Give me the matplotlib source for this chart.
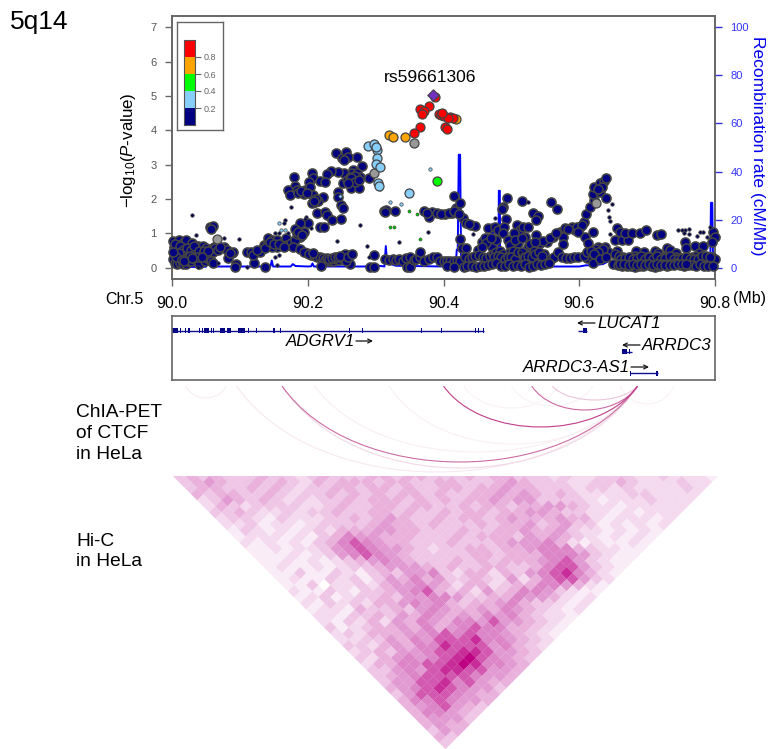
import matplotlib
matplotlib.use("Agg")
import matplotlib.pyplot as plt
from matplotlib.collections import PolyCollection
from matplotlib.colors import LinearSegmentedColormap
from matplotlib.patches import FancyArrowPatch, PathPatch, Rectangle
from matplotlib.path import Path

plt.rcParams['font.family'] = ['Liberation Sans', 'DejaVu Sans']
plt.rcParams['mathtext.fontset'] = 'custom'
plt.rcParams['mathtext.rm'] = 'Liberation Sans'
plt.rcParams['mathtext.it'] = 'Liberation Sans:italic'

W, H = 771, 749

# (Mb, -log10 P)
navy = [
    (90.002, .78), (90.006, .72), (90.010, .80), (90.014, .70), (90.018, .76), (90.022, .66), (90.026, .62),
    (90.020, .80), (90.030, .72), (90.034, .58), (90.038, .64), (90.042, .55), (90.046, .62), (90.050, .58),
    (90.054, .50), (90.058, .55), (90.062, .60), (90.066, .56), (90.003, .60), (90.008, .50), (90.013, .55),
    (90.018, .45), (90.024, .50), (90.030, .42), (90.036, .45), (90.043, .40), (90.050, .42), (90.056, .38),
    (90.060, .47), (90.001, .25), (90.005, .15), (90.008, .12), (90.012, .13), (90.016, .10), (90.020, .12),
    (90.024, .18), (90.028, .20), (90.034, .25), (90.040, .10), (90.048, .20), (90.052, .28), (90.058, .18),
    (90.060, .14), (90.094, .10), (90.093, .03), (90.137, .03), (90.121, .13), (90.056, 1.19), (90.061, 1.20),
    (90.058, 1.12), (90.076, .59), (90.081, .51), (90.088, .42), (90.083, .27), (90.090, .47), (90.063, .56),
    (90.111, .47), (90.117, .47), (90.120, .37), (90.130, .47), (90.135, .66), (90.141, .85), (90.147, .81),
    (90.140, .66), (90.154, .80), (90.154, .61), (90.162, .71), (90.168, .85), (90.169, .66), (90.176, .71),
    (90.147, .61), (90.125, .52), (90.137, .56), (90.144, .75), (90.150, .70), (90.158, .68), (90.165, .60),
    (90.004, .68), (90.012, .63), (90.016, .52), (90.022, .58), (90.028, .52), (90.032, .64), (90.040, .50),
    (90.047, .50), (90.053, .48), (90.010, .42), (90.026, .35), (90.038, .30), (90.006, .30), (90.014, .22),
    (90.018, .20), (90.030, .28), (90.044, .30), (90.002, .45), (90.068, .52), (90.070, .60), (90.085, .43),
    (90.242, 3.33), (90.250, 3.18), (90.256, 3.38), (90.260, 3.23), (90.272, 3.21), (90.254, 3.13), (90.280, 2.96),
    (90.267, 2.84), (90.265, 2.75), (90.272, 2.75), (90.253, 2.75), (90.245, 2.80), (90.234, 2.83), (90.228, 2.73),
    (90.252, 2.46), (90.258, 2.55), (90.263, 2.31), (90.275, 2.33), (90.277, 2.65), (90.290, 2.60), (90.267, 2.55),
    (90.272, 2.60), (90.262, 2.65), (90.269, 2.68), (90.264, 2.60), (90.270, 2.50), (90.275, 2.55), (90.260, 2.48),
    (90.180, 2.65), (90.206, 2.77), (90.208, 2.60), (90.202, 2.50), (90.218, 2.52), (90.226, 2.50), (90.181, 2.39),
    (90.171, 2.26), (90.184, 2.26), (90.174, 2.12), (90.186, 2.17), (90.196, 2.26), (90.203, 2.36), (90.194, 2.14),
    (90.207, 2.12), (90.211, 1.92), (90.223, 2.07), (90.215, 1.95), (90.206, 1.87), (90.244, 2.19), (90.245, 2.07),
    (90.249, 1.83), (90.252, 1.75), (90.213, 1.60), (90.226, 1.63), (90.228, 1.53), (90.235, 1.39), (90.249, 1.42),
    (90.200, 1.31), (90.218, 1.19), (90.224, 1.19), (90.188, 1.29), (90.181, 1.12), (90.194, 1.05), (90.189, .90),
    (90.181, .81), (90.179, .61), (90.189, .53), (90.212, 2.00), (90.209, 1.95), (90.190, 2.22), (90.199, 2.18),
    (90.184, .98), (90.186, 1.05), (90.192, .95),
    (90.199, .42), (90.205, .37), (90.210, .35), (90.214, .30), (90.218, .32), (90.222, .28), (90.226, .22),
    (90.230, .20), (90.234, .18), (90.238, .20), (90.242, .24), (90.246, .22), (90.250, .30), (90.254, .30),
    (90.258, .35), (90.262, .38), (90.255, .40), (90.252, .25), (90.297, .37), (90.262, .12), (90.292, .02),
    (90.297, .02), (90.220, .05), (90.256, .18), (90.195, .45), (90.202, .40), (90.207, .42), (90.228, .28),
    (90.232, .25), (90.236, .28), (90.240, .30), (90.244, .30), (90.248, .35), (90.260, .30), (90.265, .40),
    (90.312, 1.65), (90.316, 1.68), (90.328, 1.66), (90.371, 1.65), (90.383, 1.63), (90.379, 1.49), (90.390, 1.58),
    (90.402, 1.56), (90.412, 1.58), (90.415, 2.09), (90.419, 1.73), (90.425, 1.87), (90.425, .83), (90.429, 1.44),
    (90.433, 1.29), (90.441, 1.24), (90.446, 1.21), (90.427, .56), (90.433, .56), (90.314, 1.62), (90.375, 1.58),
    (90.396, 1.56), (90.408, 1.58), (90.416, 1.64), (90.423, 1.55), (90.437, 1.27),
    (90.314, .24), (90.320, .23), (90.325, .25), (90.330, .22), (90.335, .24), (90.340, .20), (90.345, .28),
    (90.350, .30), (90.346, .03), (90.351, .03), (90.356, .22), (90.360, .26), (90.365, .30), (90.366, .47),
    (90.372, .20), (90.378, .25), (90.385, .32), (90.390, .30), (90.395, .20), (90.400, .18), (90.405, .20),
    (90.410, .20), (90.415, .18), (90.420, .20), (90.425, .18), (90.405, .05), (90.415, .03), (90.430, .02),
    (90.456, .76), (90.461, .85), (90.466, 1.15), (90.476, 1.19), (90.481, 1.10), (90.488, 1.78), (90.486, 1.70),
    (90.493, 2.02), (90.492, 1.42), (90.489, 1.19), (90.488, 1.00), (90.495, .81), (90.498, .66), (90.471, .61),
    (90.463, .71), (90.451, .51), (90.457, .61), (90.515, 1.94), (90.559, 1.92), (90.567, 1.72), (90.532, 1.58),
    (90.539, 1.51), (90.537, 1.39), (90.509, 1.24), (90.513, 1.10), (90.517, 1.19), (90.525, 1.19), (90.504, 1.00),
    (90.520, .90), (90.537, .95), (90.510, .71), (90.532, .66), (90.542, .71), (90.552, .76), (90.562, .90),
    (90.571, 1.05), (90.579, 1.15), (90.576, .90), (90.576, .68), (90.589, 1.19), (90.594, 1.10), (90.601, 1.19),
    (90.607, 1.34), (90.610, 1.56), (90.616, 1.76), (90.621, 1.97), (90.620, 2.14), (90.621, 2.36), (90.630, 2.21),
    (90.631, 2.46), (90.636, 2.53), (90.640, 2.60), (90.640, 2.04), (90.620, 1.05), (90.608, .90), (90.613, .71),
    (90.628, .61), (90.638, .61), (90.643, .47), (90.623, .37), (90.611, .27), (90.620, .15), (90.655, 1.15),
    (90.660, 1.05), (90.653, .81), (90.663, .81), (90.672, .81), (90.667, 1.00), (90.677, 1.00), (90.689, 1.00),
    (90.698, 1.10), (90.714, .95), (90.720, .97), (90.655, .50), (90.684, .50), (90.695, .47), (90.712, .50),
    (90.716, .44), (90.729, .56), (90.734, .51), (90.742, .44), (90.756, .74), (90.758, .56), (90.771, .63),
    (90.783, .63), (90.797, 1.05), (90.800, .90), (90.795, .74), (90.776, .42),
    (90.546, .78), (90.557, .85), (90.566, 1.00), (90.583, 1.12), (90.596, 1.18), (90.604, 1.25), (90.598, 1.05),
    (90.505, .80), (90.515, .85), (90.524, .60), (90.528, .70), (90.535, .75), (90.478, .80), (90.470, .85),
    (90.625, .55), (90.632, .50), (90.635, .55), (90.618, .45), (90.627, .45), (90.634, 2.35), (90.628, 2.30),
    (90.432, .30), (90.437, .25), (90.442, .30), (90.447, .35), (90.452, .38), (90.458, .30), (90.463, .28),
    (90.468, .35), (90.473, .40), (90.478, .45), (90.483, .50), (90.488, .40), (90.493, .30), (90.498, .45),
    (90.503, .50), (90.508, .35), (90.513, .30), (90.518, .42), (90.523, .28), (90.528, .40), (90.533, .50),
    (90.538, .35), (90.543, .30), (90.548, .40), (90.553, .20), (90.558, .25), (90.563, .30), (90.568, .45),
    (90.574, .30), (90.580, .28), (90.586, .28), (90.592, .30), (90.598, .30), (90.607, .35), (90.612, .45),
    (90.617, .50), (90.622, .40), (90.630, .25), (90.640, .30), (90.652, .40), (90.658, .35), (90.664, .30),
    (90.670, .25), (90.676, .30), (90.682, .35), (90.688, .30), (90.694, .28), (90.700, .30), (90.706, .28),
    (90.712, .30), (90.718, .28), (90.724, .32), (90.730, .25), (90.736, .28), (90.742, .30), (90.748, .20),
    (90.754, .22), (90.760, .28), (90.766, .30), (90.772, .35), (90.778, .30), (90.784, .25), (90.790, .28),
    (90.796, .30), (90.800, .25), (90.661, .25), (90.667, .28), (90.673, .32), (90.679, .25), (90.685, .28),
    (90.691, .34), (90.697, .25), (90.703, .32), (90.709, .25), (90.715, .34), (90.721, .24), (90.727, .28),
    (90.733, .34), (90.739, .24), (90.745, .26), (90.751, .28), (90.757, .30), (90.763, .25), (90.769, .25),
    (90.775, .25), (90.781, .34), (90.787, .34), (90.793, .32), (90.475, .30), (90.480, .35), (90.485, .30),
    (90.490, .25), (90.495, .30), (90.500, .30), (90.505, .25), (90.510, .45), (90.515, .45), (90.520, .30),
    (90.525, .35), (90.530, .30), (90.535, .40), (90.540, .45), (90.545, .35),
    (90.435, .05), (90.442, .05), (90.448, .03), (90.454, .05), (90.460, .05), (90.466, .08), (90.472, .12),
    (90.478, .15), (90.484, .05), (90.490, .05), (90.496, .12), (90.502, .05), (90.508, .08), (90.514, .05),
    (90.520, .10), (90.526, .03), (90.532, .05), (90.538, .12), (90.544, .08), (90.550, .10), (90.556, .15),
    (90.650, .12), (90.657, .08), (90.663, .05), (90.670, .05), (90.676, .05), (90.682, .03), (90.688, .05),
    (90.694, .05), (90.700, .12), (90.706, .05), (90.712, .03), (90.718, .05), (90.724, .10), (90.730, .05),
    (90.736, .12), (90.742, .15), (90.748, .08), (90.754, .05), (90.760, .08), (90.766, .08), (90.772, .05),
    (90.778, .10), (90.784, .05), (90.790, .05), (90.797, .05), (90.660, .10), (90.666, .10), (90.673, .08),
    (90.679, .10), (90.685, .08), (90.691, .10), (90.697, .08), (90.703, .10), (90.709, .08), (90.715, .10),
    (90.721, .08), (90.727, .08), (90.733, .08), (90.739, .08), (90.745, .10), (90.751, .10), (90.757, .10),
]
small_dark = [
    (90.029, 1.52), (90.035, .95), (90.099, .83), (90.076, .87), (90.175, 1.76), (90.167, 1.39), (90.165, 1.30),
    (90.171, 1.02), (90.152, 1.00), (90.157, 1.00), (90.277, 1.24), (90.243, .79), (90.288, .63), (90.290, .30),
    (90.334, .76), (90.377, 1.03), (90.111, .03), (90.039, .01), (90.068, .13), (90.152, .32), (90.157, .37),
    (90.154, .08), (90.198, 1.48), (90.205, 1.15), (90.196, 1.43), (90.525, 1.90), (90.476, 1.46), (90.444, .97),
    (90.648, 1.84), (90.643, 1.68), (90.644, 1.49), (90.646, 1.37), (90.646, .98), (90.512, .47), (90.746, 1.10),
    (90.751, 1.10), (90.756, 1.10), (90.761, 1.12), (90.761, .98), (90.754, 1.02), (90.773, .92), (90.778, 1.05),
    (90.783, 1.05), (90.788, .90), (90.793, 1.19),
]
small_blue = [(90.321, 1.90), (90.337, 1.84), (90.158, 1.31), (90.166, 1.10), (90.160, 1.10), (90.380, 2.86),
              (90.247, 2.10), (90.306, 2.28)]
small_green = [(90.321, 1.19), (90.327, 1.17), (90.349, 1.65), (90.361, 1.56), (90.366, .83)]
light_blue = [(90.289, 3.55), (90.298, 3.59), (90.302, 3.43), (90.300, 3.52), (90.302, 3.18), (90.301, 3.02),
              (90.306, 2.94), (90.303, 2.48), (90.305, 2.39), (90.349, 2.18)]
orange = [(90.320, 3.86), (90.325, 3.82), (90.343, 3.80), (90.419, 4.32)]
grey = [(90.298, 2.75), (90.357, 3.62), (90.066, .83), (90.625, 1.89)]
red = [(90.366, 4.11), (90.357, 3.93), (90.378, 4.72), (90.366, 4.62), (90.371, 4.57), (90.368, 4.47),
       (90.388, 4.98), (90.393, 4.48), (90.396, 4.45), (90.400, 4.42), (90.409, 4.40), (90.414, 4.37),
       (90.406, 4.35), (90.402, 4.11), (90.405, 4.03), (90.398, 4.50)]
green = [(90.391, 2.53)]
lead_x, lead_y = 90.384, 5.03

recomb_x = [90.0, 90.02, 90.025, 90.05, 90.052, 90.056, 90.06, 90.145, 90.147, 90.149, 90.175, 90.178, 90.182,
            90.2, 90.205, 90.207, 90.209, 90.26, 90.262, 90.264, 90.285, 90.288, 90.3, 90.313, 90.315, 90.317,
            90.33, 90.4, 90.418, 90.4195, 90.421, 90.4225, 90.4245, 90.426, 90.47, 90.4705, 90.473, 90.4735,
            90.481, 90.4815, 90.483, 90.4835, 90.5, 90.6, 90.61, 90.62, 90.635, 90.645, 90.65, 90.7, 90.793,
            90.794, 90.796, 90.797, 90.8]
recomb_y = [.5, .5, .3, .4, 2, 1, .5, .5, 3, .5, .5, 1.5, .7,
            .5, .6, 1.8, .5, .5, 1.5, .5, .5, 1, 1, .5, 9, 2,
            .8, .5, .5, 7.5, 7.5, 47, 47, .8, .8, 18, 18, .8,
            .8, 32, 32, .8, .5, .5, 1, 1, 1.5, 3, 1, .5, .5,
            27, 27, 4, 1]

x_ticks = [90.0, 90.2, 90.4, 90.6, 90.8]
x_tick_labels = ["90.0", "90.2", "90.4", "90.6", "90.8"]
left_ticks = [0, 1, 2, 3, 4, 5, 6, 7]
right_ticks = [0, 20, 40, 60, 80, 100]
legend_colors = ["#000080", "#87CEFA", "#00FF00", "#FFA500", "#FF0000"]
legend_ticks = [0.2, 0.4, 0.6, 0.8]

# (start, end) in Mb
adgrv1_exons = [(90.0, 90.009), (90.0118, 90.0125), (90.0155, 90.016), (90.0198, 90.0205), (90.024, 90.026),
                (90.040, 90.041), (90.044, 90.045), (90.0476, 90.0546), (90.057, 90.0578), (90.06, 90.0606),
                (90.0706, 90.0786), (90.0813, 90.0867), (90.0974, 90.108), (90.1118, 90.1125), (90.1188, 90.1195),
                (90.124, 90.1248), (90.1364, 90.137), (90.1439, 90.1445), (90.149, 90.152), (90.159, 90.1595),
                (90.2605, 90.261), (90.28, 90.2805), (90.3675, 90.368), (90.397, 90.3975), (90.4467, 90.4472),
                (90.4505, 90.451), (90.4585, 90.459)]
lucat1_exons = [(90.5976, 90.5985), (90.606, 90.611)]
arrdc3_exons = [(90.663, 90.671), (90.673, 90.674), (90.677, 90.678)]
as1_exons = [(90.675, 90.676), (90.7135, 90.7155)]

# start Mb, end Mb, depth in px, colour
arc_start = [90.162, 90.02, 90.095, 90.163, 90.21, 90.40, 90.32, 90.53, 90.43, 90.5, 90.56, 90.66]
arc_end = [90.686, 90.08, 90.686, 90.686, 90.686, 90.686, 90.686, 90.686, 90.57, 90.62, 90.686, 90.74]
arc_depth = [76, 12, 86, 82, 66, 41, 58, 24, 22, 20, 14, 18]
arc_color = ["#CC6CA2", "#F8ECF2", "#F8E8F0", "#F2D8E6", "#F8EEF4", "#C03C88", "#F9F0F5", "#CC66A4", "#FAF2F6",
             "#FAF2F6", "#EDC4DA", "#FAF2F6"]

# Hi-C levels 0-9, one string per distance from the diagonal
hic_rows = [
    "34343 33433 23433 34434 43334 34433 32322 33322 32221",
    "34543 34343 24344 43443 34433 34543 33223 34322 2322",
    "34433 43432 33443 44343 34434 45443 33233 23222 232",
    "43443 34323 34343 43443 43344 54543 43222 23322 22",
    "23543 43232 33434 44343 43445 45533 33212 22322 2",
    "24323 33322 34334 43443 34344 34455 43221 22222",
    "33432 23233 43344 34334 34434 45543 32212 1222",
    "23321 32223 34345 43343 44345 44454 42122 212",
    "22312 21233 33454 43433 34344 53453 31212 12",
    "13212 12324 44554 43334 33445 44532 21212 1",
    "12221 21346 55444 33343 44435 45432 12121",
    "21212 13467 65443 33433 34555 64212 1121",
    "11212 23567 65543 23344 34456 66432 211",
    "11121 23567 65433 33344 34446 66532 11",
    "11212 12345 65433 34343 44456 75321 1",
    "12112 12334 55543 43344 33467 75321",
    "11311 32134 35563 24424 35678 6421",
    "12113 23135 46453 34325 24677 532",
    "11302 23245 56542 44234 46654 21",
    "21132 13345 67434 25346 65321 1",
    "12312 33435 56653 34465 54212",
    "21323 24456 56434 45643 3212",
    "12214 33435 65445 46543 212",
    "22133 43546 54546 56432 21",
    "21324 25465 46657 55432 1",
    "31234 45464 56766 44321",
    "23244 45567 67665 4321",
    "22335 46577 78665 432",
    "33245 46687 77564 32",
    "23435 56778 87554 3",
    "32456 56789 76543",
    "24466 77898 6654",
    "33565 78877 554",
    "34567 77765 54",
    "35577 86754 4",
    "45678 76553",
    "35777 6544",
    "46676 554",
    "45675 43",
    "46654 3",
    "45553",
    "4544",
    "354",
    "43",
    "3",
]


def box(l, t, r, b):
    return [l / W, 1 - b / H, (r - l) / W, (b - t) / H]


def px(x, y):
    return x / W, 1 - y / H


fig = plt.figure(figsize=(W / 100, H / 100), dpi=100)

# association panel
ax = fig.add_axes(box(172, 16, 715, 279))
ax.set_xlim(90.0, 90.8)
ax.set_ylim(-0.33, 7.33)
for side in ax.spines.values():
    side.set_color("#666666")
    side.set_linewidth(1.4)
ax.set_xticks(x_ticks)
ax.set_xticklabels(x_tick_labels, fontsize=11.5)
ax.set_yticks(left_ticks)
ax.tick_params(axis='x', length=5, width=1, color="#666666", pad=7)
ax.tick_params(axis='y', length=5, width=1, color="#666666", labelcolor="#555555", labelsize=8, pad=6)

ax2 = ax.twinx()
ax2.set_ylim(-4.7, 104.7)
ax2.set_yticks(right_ticks)
ax2.tick_params(axis='y', length=5, width=1, color="#3333DD", labelcolor="#3333FF", labelsize=8, pad=6)
for side in ax2.spines.values():
    side.set_visible(False)
ax2.plot(recomb_x, recomb_y, color="#0000FF", lw=1.4, zorder=1)
ax.set_zorder(ax2.get_zorder() + 1)
ax.patch.set_visible(False)


def dots(points, color, size, edge="#444444", lw=1.2, z=3):
    xs, ys = zip(*points)
    ax.scatter(xs, ys, s=size, c=color, edgecolors=edge, linewidths=lw, zorder=z, clip_on=False)


dots(navy, "#000080", 42)
dots(small_dark, "#000050", 6, lw=0.6)
dots(small_blue, "#87CEFA", 6, lw=0.5, z=4)
dots(small_green, "#00C000", 5, lw=0.4, z=4)
dots(grey, "#999999", 42, lw=0.9, z=4)
dots(light_blue, "#87CEFA", 42, lw=0.9, z=4)
dots(orange, "#FFA500", 42, lw=0.9, z=4)
dots(green, "#00FF00", 42, lw=0.9, z=4)
dots(red, "#FF0000", 42, lw=0.9, z=5)
ax.scatter([lead_x], [lead_y], s=34, marker="D", c="#7030C0", edgecolors="#444444", linewidths=0.8, zorder=6)

# r2 legend
box_ax = fig.add_axes(box(177, 22, 223, 130))
box_ax.set_xticks([])
box_ax.set_yticks([])
for side in box_ax.spines.values():
    side.set_color("#666666")
    side.set_linewidth(1)
box_ax.set_zorder(5)

leg = fig.add_axes(box(184, 40, 195, 125))
leg.set_xlim(0, 1)
leg.set_ylim(0, 1)
leg.set_zorder(6)
for i, col in enumerate(legend_colors):
    leg.add_patch(Rectangle((0, i * 0.2), 1, 0.2, color=col, lw=0))
leg.set_xticks([])
leg.yaxis.tick_right()
leg.set_yticks(legend_ticks)
leg.set_yticklabels([str(t) for t in legend_ticks])
leg.tick_params(axis='y', length=4, width=0.8, color="#666666", labelcolor="#666666", labelsize=6.5, pad=2)
for side in leg.spines.values():
    side.set_color("#555555")
    side.set_linewidth(0.8)

# gene track
gene = fig.add_axes(box(172, 316, 715, 380))
gene.set_xlim(90.0, 90.8)
gene.set_ylim(380, 316)
gene.set_xticks([])
gene.set_yticks([])
for side in gene.spines.values():
    side.set_color("#666666")
    side.set_linewidth(1.2)


def draw_gene(exons, row, lw=1.0):
    gene.plot([exons[0][0], exons[-1][1]], [row, row], color="#101090", lw=lw, solid_capstyle='butt')
    for a, b in exons:
        gene.add_patch(Rectangle((a, row - 2.5), max(b - a, 0.0012), 5, color="#000080", lw=0))


draw_gene(adgrv1_exons, 330.7)
draw_gene(lucat1_exons, 330.7)
draw_gene(arrdc3_exons, 352)
draw_gene(as1_exons, 373)

# ChIA-PET arcs
arcs = fig.add_axes(box(172, 386, 715, 476))
arcs.set_xlim(90.0, 90.8)
arcs.set_ylim(90, 0)
arcs.axis("off")
order = sorted(range(len(arc_start)), key=lambda i: arc_color[i], reverse=True)
for i in order:
    a, b, d = arc_start[i], arc_end[i], arc_depth[i]
    span = b - a
    verts = [(a, 0), (a + 0.2 * span, 4 * d / 3), (b - 0.2 * span, 4 * d / 3), (b, 0)]
    codes = [Path.MOVETO, Path.CURVE4, Path.CURVE4, Path.CURVE4]
    arcs.add_patch(PathPatch(Path(verts, codes), fill=False, edgecolor=arc_color[i], lw=0.8))

# Hi-C triangle
hic_cmap = LinearSegmentedColormap.from_list("hic", ["#FFFFFF", "#EFC6E6", "#DC86C8", "#BE0082"])
n_bins = len(hic_rows)
hic = fig.add_axes(box(173, 476, 718, 749))
hic.set_xlim(0, n_bins)
hic.set_ylim(n_bins / 2, 0)
hic.axis("off")
polys = []
vals = []
for d, row in enumerate(hic_rows):
    for k, c in enumerate(row.replace(" ", "")):
        cx = k + 0.5 + d / 2
        cy = d / 2
        polys.append([(cx - 0.5, cy), (cx, cy - 0.5), (cx + 0.5, cy), (cx, cy + 0.5)])
        vals.append(int(c))
hic.add_collection(PolyCollection(polys, array=vals, cmap=hic_cmap, clim=(0, 9), edgecolors='face', linewidths=0.1))

# labels
fig.text(*px(10, 22), "5q14", fontsize=19, va='center')
fig.text(*px(105, 299), "Chr.5", fontsize=11.5, va='center')
fig.text(*px(733, 299), "(Mb)", fontsize=11.5, va='center')
fig.text(*px(430, 77), "rs59661306", fontsize=12.6, ha='center', va='center')
fig.text(*px(128, 150), r"$-$log$_{10}$($\mathit{P}$-value)", fontsize=12.2, rotation=90, ha='center', va='center')
fig.text(*px(757, 146), "Recombination rate (cM/Mb)", fontsize=12.5, color="#0000EE", rotation=270,
         ha='center', va='center')
fig.text(*px(199, 32), "r$^2$", fontsize=7, color="#666666", ha='center', va='center')
fig.text(*px(76, 433.5), "ChIA-PET\nof CTCF\nin HeLa", fontsize=13.8, va='center', linespacing=1.27)
fig.text(*px(76, 551.5), "Hi-C\nin HeLa", fontsize=13.8, va='center', linespacing=1.27)

fig.text(*px(286, 341), "ADGRV1", fontsize=12.2, style='italic', va='center')
fig.text(*px(597, 323), "LUCAT1", fontsize=12.2, style='italic', va='center')
fig.text(*px(642, 345), "ARRDC3", fontsize=12.2, style='italic', va='center')
fig.text(*px(523, 368), "ARRDC3-AS1", fontsize=12.2, style='italic', va='center')


def arrow(x0, x1, y):
    fig.add_artist(FancyArrowPatch(px(x0, y), px(x1, y), transform=fig.transFigure, arrowstyle='->',
                                   mutation_scale=7, lw=0.9, color="#111111", shrinkA=0, shrinkB=0))


arrow(356, 373, 341)
arrow(595, 577, 323)
arrow(640, 622, 345)
arrow(631, 649, 367)

fig.savefig("out.png", dpi=100)
